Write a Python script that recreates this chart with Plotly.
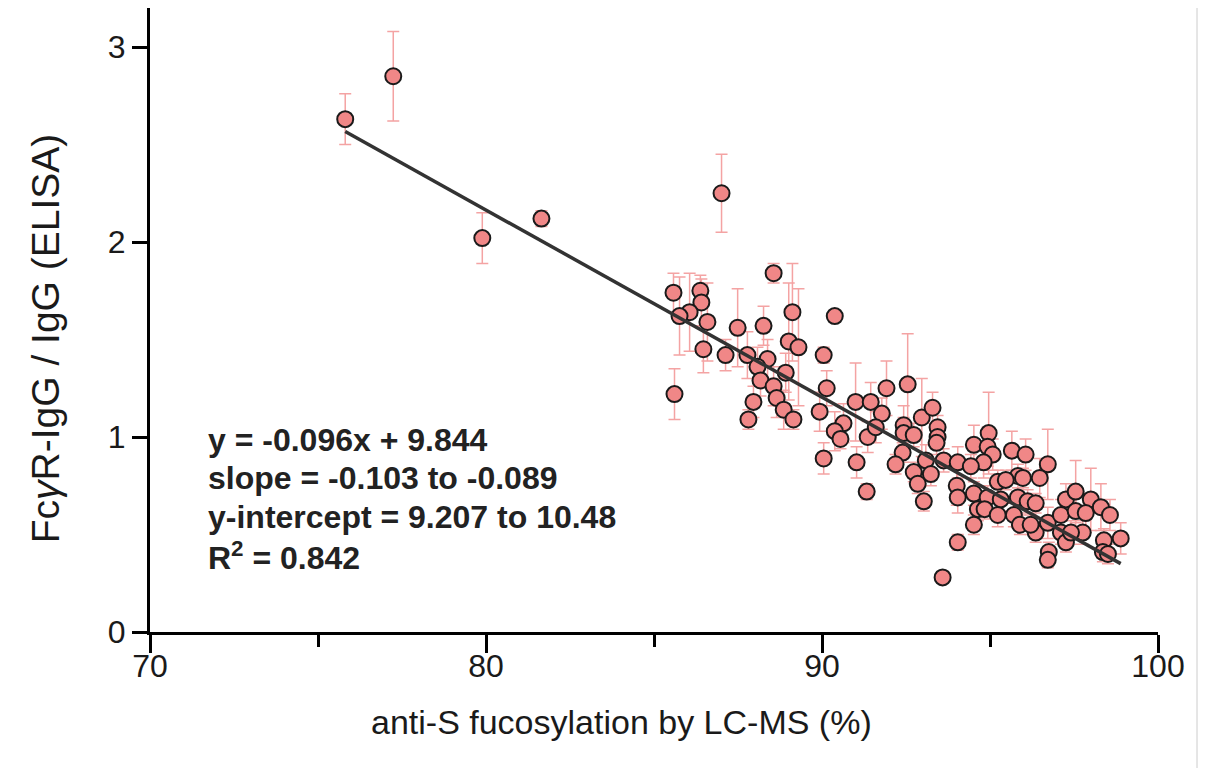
import plotly.graph_objects as go

# anti-S fucosylation (%) vs FcgR-IgG / IgG
fucosylation = [
    75.81, 77.24, 79.89, 81.65, 87.01,
    85.58, 86.38, 86.41, 86.06, 85.76, 86.59, 87.49, 88.26, 89.12, 88.56,
    89.01, 89.30, 86.47, 87.13, 87.78, 88.38, 88.08, 88.92, 88.17, 88.56,
    85.61, 88.65, 87.96, 88.86, 87.81, 89.15,
    90.38, 90.05, 90.14, 91.92, 92.55, 89.93, 91.00, 91.45, 91.78, 90.64,
    90.38, 91.36, 91.60, 92.43, 92.97, 93.29, 93.44, 92.43, 92.73, 93.44,
    90.55, 93.41, 94.52, 90.05, 91.03, 92.40, 92.19, 93.09, 92.73, 93.24,
    93.62, 94.04, 92.85, 94.01, 94.04, 94.52, 93.03, 94.64, 91.33, 94.52,
    94.04, 93.59,
    94.96, 95.65, 96.06, 96.72, 96.48, 94.93, 95.08, 94.81, 95.23, 95.83,
    95.47, 95.98, 94.93, 95.32, 95.83, 96.12, 96.36, 94.84, 95.23, 95.71,
    95.89, 96.36, 96.21, 96.72, 97.11, 97.26, 97.55, 98.00, 97.55, 97.85,
    98.30, 98.57, 97.11, 97.26, 97.76, 97.41, 98.89, 98.39, 98.36, 98.51,
    96.75, 96.72, 94.43,
]
ratio = [
    2.63, 2.85, 2.02, 2.12, 2.25,
    1.74, 1.75, 1.69, 1.64, 1.62, 1.59, 1.56, 1.57, 1.64, 1.84,
    1.49, 1.46, 1.45, 1.42, 1.42, 1.40, 1.36, 1.33, 1.29, 1.26,
    1.22, 1.20, 1.18, 1.14, 1.09, 1.09,
    1.62, 1.42, 1.25, 1.25, 1.27, 1.13, 1.18, 1.18, 1.12, 1.07,
    1.03, 1.00, 1.05, 1.06, 1.10, 1.15, 1.05, 1.02, 1.01, 1.00,
    0.99, 0.97, 0.96, 0.89, 0.87, 0.92, 0.86, 0.88, 0.82, 0.81,
    0.88, 0.87, 0.76, 0.75, 0.69, 0.71, 0.67, 0.63, 0.72, 0.55,
    0.46, 0.28,
    1.02, 0.93, 0.91, 0.86, 0.79, 0.95, 0.91, 0.87, 0.77, 0.80,
    0.78, 0.79, 0.69, 0.68, 0.69, 0.67, 0.66, 0.63, 0.60, 0.60,
    0.55, 0.51, 0.55, 0.56, 0.60, 0.68, 0.72, 0.68, 0.62, 0.61,
    0.64, 0.60, 0.51, 0.46, 0.51, 0.51, 0.48, 0.47, 0.41, 0.40,
    0.41, 0.37, 0.85,
]
ratio_err = [
    0.13, 0.23, 0.13, 0.04, 0.20,
    0.10, 0.08, 0.12, 0.20, 0.20, 0.20, 0.20, 0.10, 0.25, 0.05,
    0.30, 0.30, 0.12, 0.08, 0.12, 0.10, 0.10, 0.10, 0.08, 0.10,
    0.13, 0.10, 0.08, 0.10, 0.05, 0.05,
    0.03, 0.04, 0.09, 0.14, 0.26, 0.10, 0.20, 0.10, 0.08, 0.10,
    0.10, 0.08, 0.08, 0.10, 0.20, 0.08, 0.06, 0.08, 0.06, 0.06,
    0.05, 0.06, 0.10, 0.08, 0.08, 0.05, 0.05, 0.08, 0.05, 0.06,
    0.06, 0.08, 0.05, 0.10, 0.08, 0.06, 0.05, 0.06, 0.04, 0.05,
    0.04, 0.03,
    0.21, 0.10, 0.08, 0.18, 0.10, 0.10, 0.08, 0.08, 0.06, 0.06,
    0.05, 0.05, 0.06, 0.06, 0.05, 0.06, 0.05, 0.05, 0.06, 0.06,
    0.05, 0.05, 0.05, 0.08, 0.08, 0.08, 0.16, 0.16, 0.10, 0.10,
    0.12, 0.08, 0.06, 0.05, 0.06, 0.06, 0.08, 0.06, 0.05, 0.05,
    0.05, 0.04, 0.06,
]

# linear fit reported in the figure
slope = -0.096
intercept = 9.844
stats_lines = [
    "y = -0.096x + 9.844",
    "slope = -0.103 to -0.089",
    "y-intercept = 9.207 to 10.48",
    "R<sup>2</sup> = 0.842",
]
stats_y = [0.986, 0.791, 0.591, 0.390]

font = "Liberation Sans, Arial, sans-serif"

fig = go.Figure()
fig.add_trace(go.Scatter(
    x=fucosylation, y=ratio, mode="markers",
    error_y=dict(type="data", array=ratio_err, color="#f4a3a3", thickness=1.5, width=6),
    marker=dict(size=16, color="#f08787", line=dict(color="#1a1a1a", width=2)),
    showlegend=False,
))
fit_x = [min(fucosylation), max(fucosylation)]
fig.add_trace(go.Scatter(
    x=fit_x, y=[slope * v + intercept for v in fit_x], mode="lines",
    line=dict(color="#333333", width=3.5), showlegend=False,
))

for txt, yy in zip(stats_lines, stats_y):
    fig.add_annotation(x=0.056, xref="paper", y=yy, yref="y", text="<b>" + txt + "</b>",
                       showarrow=False, xanchor="left", yanchor="middle",
                       font=dict(family=font, size=32, color="#222222"))

# axis titles (placed as in the original, slightly off-centre)
fig.add_annotation(x=0.468, xref="paper", y=-0.145, yref="paper", yanchor="middle",
                   text="anti-S fucosylation by LC-MS (%)", showarrow=False,
                   font=dict(family=font, size=34, color="#1a1a1a"))
fig.add_annotation(x=-0.104, xref="paper", y=0.471, yref="paper", xanchor="center", yanchor="middle",
                   text="Fc<i>γ</i>R-IgG / IgG (ELISA)", textangle=-90, showarrow=False,
                   font=dict(family=font, size=39, color="#1a1a1a"))

# screenshot border on the right
fig.add_shape(type="line", xref="paper", yref="paper", x0=1.0387, x1=1.0387, y0=-0.25, y1=1.02,
              line=dict(color="#cccccc", width=1))

fig.update_layout(
    width=1219, height=768,
    margin=dict(l=142, r=69, t=0, b=144),
    plot_bgcolor="white", paper_bgcolor="white",
    font=dict(family=font, color="#1a1a1a"),
)
fig.update_xaxes(
    range=[70, 100], tickvals=[70, 80, 90, 100], showgrid=False, zeroline=False,
    showline=True, linecolor="black", linewidth=3,
    ticks="outside", ticklen=18, tickwidth=3, tickcolor="black",
    minor=dict(tickvals=[75, 85, 95], ticks="outside", ticklen=12, tickwidth=3, tickcolor="black"),
    tickfont=dict(size=32), ticklabelstandoff=-14,
)
fig.update_yaxes(
    range=[0, 3.2], tickvals=[0, 1, 2, 3], showgrid=False, zeroline=False,
    showline=True, linecolor="black", linewidth=3,
    ticks="outside", ticklen=15, tickwidth=3, tickcolor="black",
    tickfont=dict(size=32), ticklabelstandoff=0,
)

fig.write_html("out.html")
